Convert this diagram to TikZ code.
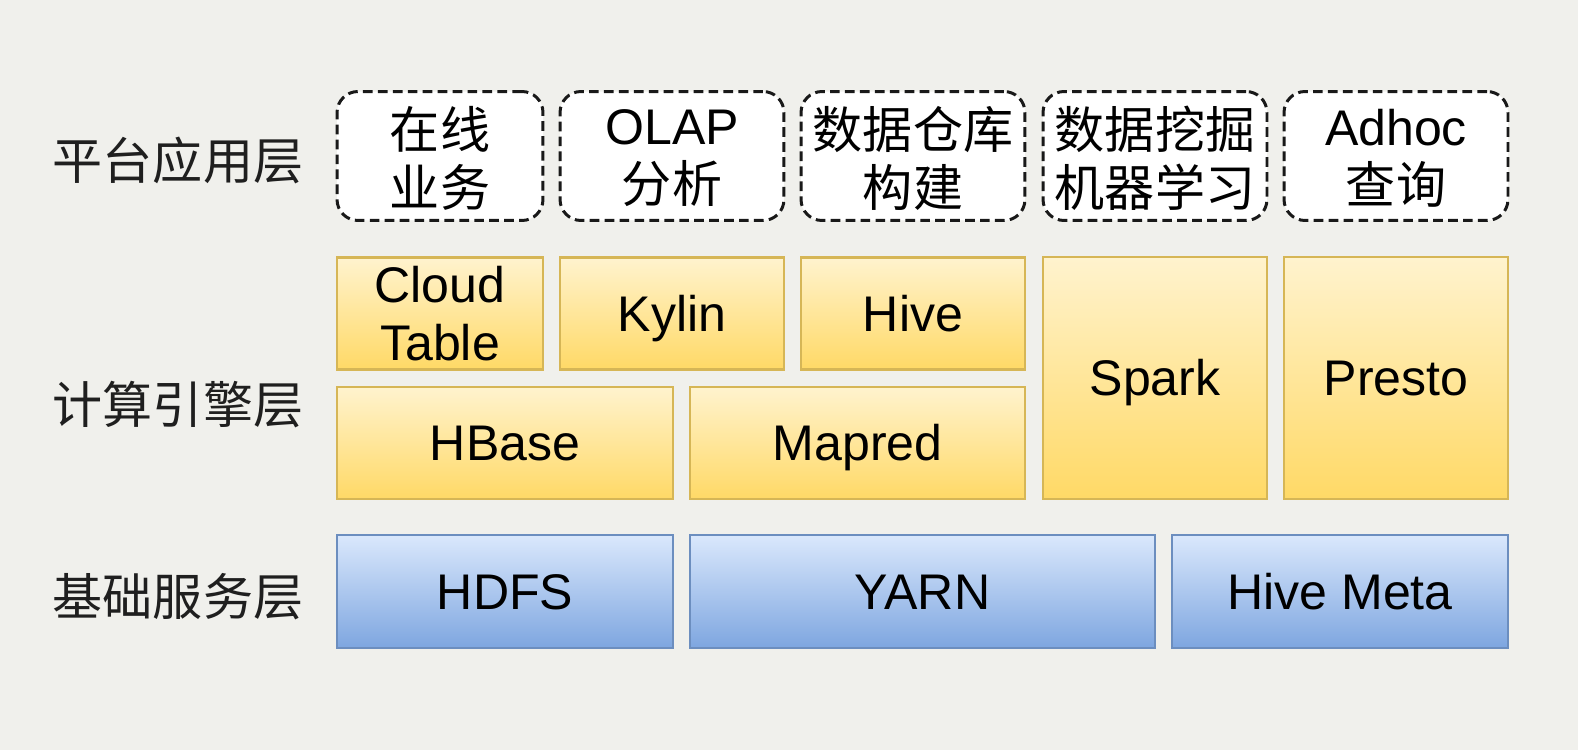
\documentclass[tikz,border=0pt]{standalone}
\usepackage{fontspec}
\setmainfont{Liberation Sans}
\newfontfamily\cjk{Noto Sans CJK SC}
\usepackage{tikz}
\usetikzlibrary{positioning}

\definecolor{bgGray}{RGB}{240,240,236}
\definecolor{engineTop}{HTML}{FFF3CE}
\definecolor{engineBot}{HTML}{FFD966}
\definecolor{engineLine}{HTML}{D6B656}
\definecolor{baseTop}{HTML}{DAE8FC}
\definecolor{baseBot}{HTML}{7EA6E0}
\definecolor{baseLine}{HTML}{6C8EBF}

\begin{document}
\begin{tikzpicture}[x=0.02cm,y=-0.02cm,
    every node/.style={font=\fontsize{28.5}{33}\selectfont,align=center,inner sep=0pt},
    layer/.style={text=black!88},
    oneline/.style={text height=20.4pt,text depth=0pt},
    app/.style={draw=black!90,fill=white,line width=1.7pt,dash pattern=on 5.5pt off 3pt,
        rounded corners=0.42cm,minimum height=2.58cm,text depth=0pt},
    engine/.style={draw=engineLine,top color=engineTop,bottom color=engineBot,
        line width=1.6pt,minimum height=2.24cm},
    base/.style={draw=baseLine,top color=baseTop,bottom color=baseBot,
        line width=1.6pt,minimum height=2.26cm,oneline}]

    \fill[bgGray] (0,0) rectangle (1578,750);
    \useasboundingbox (0,0) rectangle (1578,750);

    % layer names
    \node[layer] (appL) at (178,160) {\cjk 平台应用层};
    \node[layer] (engL) at (178,405) {\cjk 计算引擎层};
    \node[layer] (baseL) at (178,597) {\cjk 基础服务层};

    % platform applications
    \node[app, minimum width=4.12cm] (online) at (440,156) {\cjk 在线\\\cjk 业务};
    \node[app, minimum width=4.48cm] (olap) at (672,156) {OLAP\\\cjk 分析};
    \node[app, minimum width=4.48cm] (dw) at (913,156) {\cjk 数据仓库\\\cjk 构建};
    \node[app, minimum width=4.48cm] (ml) at (1155,156) {\cjk 数据挖掘\\\cjk 机器学习};
    \node[app, minimum width=4.48cm] (adhoc) at (1396,156) {Adhoc\\\cjk 查询};

    % compute engines
    \node[engine, text depth=0pt, minimum width=4.12cm] (cloud) at (440,313.5) {Cloud\\Table};
    \node[engine, oneline, minimum width=4.48cm] (kylin) at (672,313.5) {Kylin};
    \node[engine, oneline, minimum width=4.48cm] (hive) at (913,313.5) {Hive};
    \node[engine, oneline, minimum width=4.48cm, minimum height=4.84cm] (spark) at (1155,378) {Spark};
    \node[engine, oneline, minimum width=4.48cm, minimum height=4.84cm] (presto) at (1396,378) {Presto};
    \node[engine, oneline, minimum width=6.72cm] (hbase) at (505,443) {HBase};
    \node[engine, oneline, minimum width=6.70cm] (mapred) at (857.5,443) {Mapred};

    % base services
    \node[base, minimum width=6.72cm] (hdfs) at (505,591.5) {HDFS};
    \node[base, minimum width=9.30cm] (yarn) at (922.5,591.5) {YARN};
    \node[base, minimum width=6.72cm] (meta) at (1340,591.5) {Hive Meta};
\end{tikzpicture}
\end{document}
